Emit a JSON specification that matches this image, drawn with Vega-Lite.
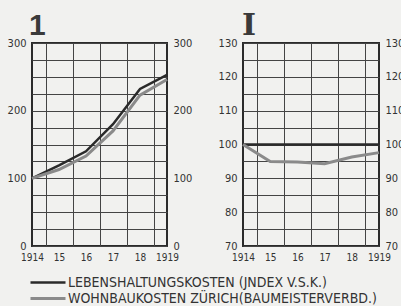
{
  "$schema": "https://vega.github.io/schema/vega-lite/v6.json",
  "background": "#f1f1ef",
  "padding": {"left": 6, "top": 10, "right": 0, "bottom": 0},
  "datasets": {
    "left": [
      {"year": 1914, "series": "LEBENSHALTUNGSKOSTEN (JNDEX V.S.K.)", "value": 100},
      {"year": 1915, "series": "LEBENSHALTUNGSKOSTEN (JNDEX V.S.K.)", "value": 119},
      {"year": 1916, "series": "LEBENSHALTUNGSKOSTEN (JNDEX V.S.K.)", "value": 140},
      {"year": 1917, "series": "LEBENSHALTUNGSKOSTEN (JNDEX V.S.K.)", "value": 180},
      {"year": 1918, "series": "LEBENSHALTUNGSKOSTEN (JNDEX V.S.K.)", "value": 232},
      {"year": 1919, "series": "LEBENSHALTUNGSKOSTEN (JNDEX V.S.K.)", "value": 253},
      {"year": 1914, "series": "WOHNBAUKOSTEN ZÜRICH(BAUMEISTERVERBD.)", "value": 100},
      {"year": 1915, "series": "WOHNBAUKOSTEN ZÜRICH(BAUMEISTERVERBD.)", "value": 113},
      {"year": 1916, "series": "WOHNBAUKOSTEN ZÜRICH(BAUMEISTERVERBD.)", "value": 133},
      {"year": 1917, "series": "WOHNBAUKOSTEN ZÜRICH(BAUMEISTERVERBD.)", "value": 170},
      {"year": 1918, "series": "WOHNBAUKOSTEN ZÜRICH(BAUMEISTERVERBD.)", "value": 223},
      {"year": 1919, "series": "WOHNBAUKOSTEN ZÜRICH(BAUMEISTERVERBD.)", "value": 246}
    ],
    "right": [
      {"year": 1914, "series": "LEBENSHALTUNGSKOSTEN (JNDEX V.S.K.)", "value": 100},
      {"year": 1915, "series": "LEBENSHALTUNGSKOSTEN (JNDEX V.S.K.)", "value": 100},
      {"year": 1916, "series": "LEBENSHALTUNGSKOSTEN (JNDEX V.S.K.)", "value": 100},
      {"year": 1917, "series": "LEBENSHALTUNGSKOSTEN (JNDEX V.S.K.)", "value": 100},
      {"year": 1918, "series": "LEBENSHALTUNGSKOSTEN (JNDEX V.S.K.)", "value": 100},
      {"year": 1919, "series": "LEBENSHALTUNGSKOSTEN (JNDEX V.S.K.)", "value": 100},
      {"year": 1914, "series": "WOHNBAUKOSTEN ZÜRICH(BAUMEISTERVERBD.)", "value": 100},
      {"year": 1915, "series": "WOHNBAUKOSTEN ZÜRICH(BAUMEISTERVERBD.)", "value": 95},
      {"year": 1916, "series": "WOHNBAUKOSTEN ZÜRICH(BAUMEISTERVERBD.)", "value": 94.8},
      {"year": 1917, "series": "WOHNBAUKOSTEN ZÜRICH(BAUMEISTERVERBD.)", "value": 94.3},
      {"year": 1918, "series": "WOHNBAUKOSTEN ZÜRICH(BAUMEISTERVERBD.)", "value": 96.3},
      {"year": 1919, "series": "WOHNBAUKOSTEN ZÜRICH(BAUMEISTERVERBD.)", "value": 97.6}
    ]
  },
  "config": {
    "view": {"stroke": "#2b2b2b", "strokeWidth": 2},
    "font": "DejaVu Sans",
    "axis": {
      "labelFont": "DejaVu Sans Condensed",
      "labelFontSize": 11,
      "labelColor": "#333333",
      "ticks": false,
      "domain": false,
      "gridColor": "#444444",
      "gridWidth": 1,
      "labelPadding": 6
    },
    "legend": {"orient": "none", "legendX": 18, "legendY": 231, "title": null, "symbolType": "M-4,0H1", "symbolSize": 196, "labelFont": "DejaVu Sans Condensed", "labelFontSize": 14, "labelColor": "#333333", "rowPadding": 0, "labelOffset": 1, "labelLimit": 400},
    "concat": {"spacing": 24},
    "title": {"fontSize": 30, "fontWeight": "bold", "color": "#3a3a3a", "anchor": "start", "offset": -4}
  },
  "hconcat": [
    {
      "width": 135,
      "height": 203,
      "title": {"text": "1", "font": "Liberation Sans", "dx": 22},
      "data": {"name": "left"},
      "layer": [
        {
          "mark": {"type": "line", "strokeJoin": "miter"},
          "encoding": {
            "x": {"field": "year", "type": "quantitative", "title": null,
              "scale": {"domain": [1914, 1919], "nice": false, "zero": false},
              "axis": {"values": [1914, 1914.5, 1915, 1915.5, 1916, 1916.5, 1917, 1917.5, 1918, 1918.5, 1919],
                "labelExpr": "datum.value % 1 != 0 ? '' : (datum.value == 1914 || datum.value == 1919 ? toString(datum.value) : substring(toString(datum.value), 2))",
                "labelFlush": false, "labelPadding": 6, "labelFontSize": 10,
                "gridOpacity": {"condition": {"test": "datum.value % 1 != 0", "value": 1}, "value": 0}}},
            "y": {"field": "value", "type": "quantitative", "title": null,
              "scale": {"domain": [0, 300], "nice": false, "zero": false},
              "axis": {"orient": "left", "values": [0, 25, 50, 75, 100, 125, 150, 175, 200, 225, 250, 275, 300],
                "labelExpr": "datum.value % 100 == 0 ? datum.label : ''"}},
            "color": {"field": "series", "type": "nominal",
              "scale": {"domain": ["LEBENSHALTUNGSKOSTEN (JNDEX V.S.K.)", "WOHNBAUKOSTEN ZÜRICH(BAUMEISTERVERBD.)"], "range": ["#2a2a2a", "#8a8a8a"]}},
            "strokeWidth": {"field": "series", "type": "nominal",
              "scale": {"domain": ["LEBENSHALTUNGSKOSTEN (JNDEX V.S.K.)", "WOHNBAUKOSTEN ZÜRICH(BAUMEISTERVERBD.)"], "range": [2.5, 3]}}
          }
        },
        {
          "mark": {"type": "point", "opacity": 0},
          "encoding": {
            "y": {"field": "value", "type": "quantitative", "title": null,
              "scale": {"domain": [0, 300], "nice": false, "zero": false},
              "axis": {"orient": "right", "values": [0, 100, 200, 300], "grid": false}}
          }
        }
      ],
      "resolve": {"scale": {"y": "independent"}}
    },
    {
      "width": 136,
      "height": 203,
      "title": {"text": "I", "font": "DejaVu Serif", "dx": 24},
      "data": {"name": "right"},
      "layer": [
        {
          "mark": {"type": "line", "strokeJoin": "miter"},
          "encoding": {
            "x": {"field": "year", "type": "quantitative", "title": null,
              "scale": {"domain": [1914, 1919], "nice": false, "zero": false},
              "axis": {"values": [1914, 1914.5, 1915, 1915.5, 1916, 1916.5, 1917, 1917.5, 1918, 1918.5, 1919],
                "labelExpr": "datum.value % 1 != 0 ? '' : (datum.value == 1914 || datum.value == 1919 ? toString(datum.value) : substring(toString(datum.value), 2))",
                "labelFlush": false, "labelPadding": 6, "labelFontSize": 10,
                "gridOpacity": {"condition": {"test": "datum.value % 1 != 0", "value": 1}, "value": 0}}},
            "y": {"field": "value", "type": "quantitative", "title": null,
              "scale": {"domain": [70, 130], "nice": false, "zero": false},
              "axis": {"orient": "left", "values": [70, 75, 80, 85, 90, 95, 100, 105, 110, 115, 120, 125, 130],
                "labelExpr": "datum.value % 10 == 0 ? datum.label : ''"}},
            "color": {"field": "series", "type": "nominal"},
            "strokeWidth": {"field": "series", "type": "nominal"}
          }
        },
        {
          "mark": {"type": "point", "opacity": 0},
          "encoding": {
            "y": {"field": "value", "type": "quantitative", "title": null,
              "scale": {"domain": [70, 130], "nice": false, "zero": false},
              "axis": {"orient": "right", "values": [70, 80, 90, 100, 110, 120, 130], "grid": false}}
          }
        }
      ],
      "resolve": {"scale": {"y": "independent"}}
    }
  ]
}
